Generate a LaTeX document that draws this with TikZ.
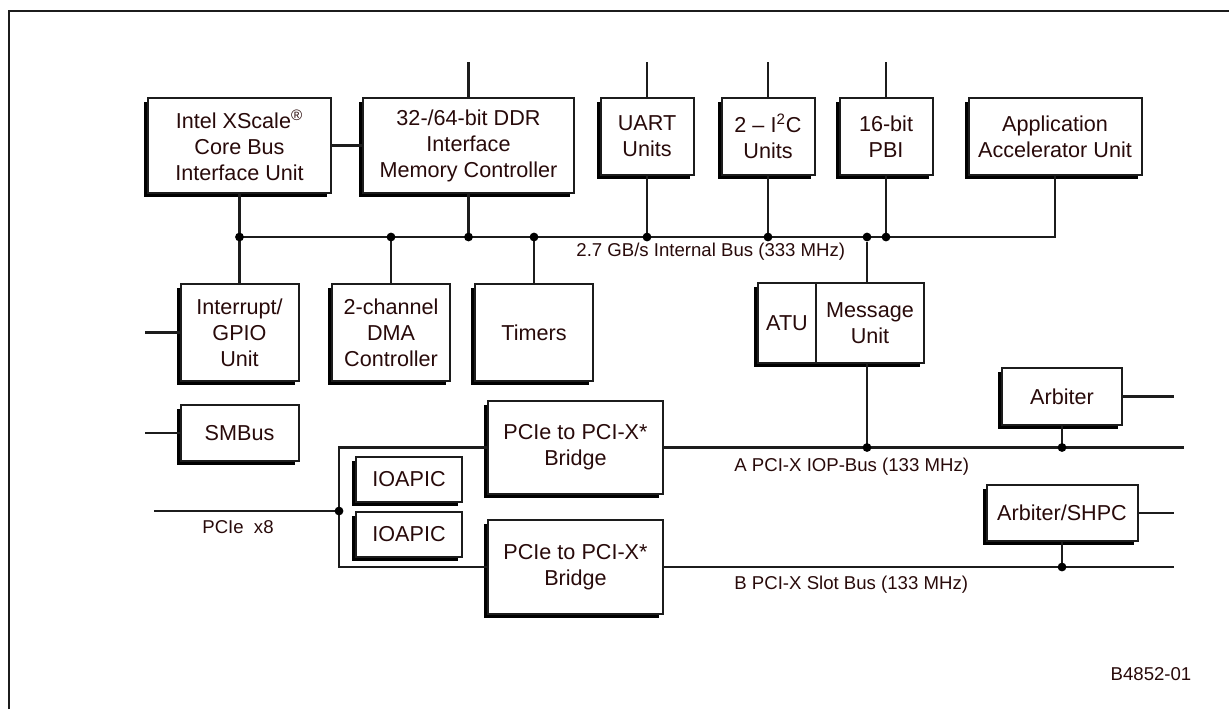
\documentclass[tikz,border=0pt]{standalone}
\usepackage{fontspec}
\setmainfont{Liberation Sans}
\usetikzlibrary{positioning, shadows}
\definecolor{inkred}{RGB}{40,10,10}
\definecolor{wire}{RGB}{28,28,28}

\begin{document}
\begin{tikzpicture}[x=0.5pt, y=-0.5pt,
  unit/.style={draw=wire, fill=white, line width=1pt, text=inkred, align=center,
    inner sep=0pt, font=\fontsize{10.8}{13}\selectfont,
    drop shadow={shadow xshift=-1.9pt, shadow yshift=-1.9pt, fill=black, opacity=1}},
  bus/.style={draw=wire, line width=1.2pt},
  junc/.style={circle, fill=black, inner sep=0pt, minimum size=4.4pt},
  buslabel/.style={text=inkred, font=\fontsize{9.3}{11}\selectfont, inner sep=0pt}]

\useasboundingbox (0,0) rectangle (1229,709);
\draw[wire, line width=1.2pt] (9,709) -- (9,11) -- (1229,11);

% top row
\node[unit, minimum width=91.5pt, minimum height=47.5pt] (xscale) at (239.5,145.5) {Intel XScale\textsuperscript{®}\\Core Bus\\Interface Unit};
\node[unit, minimum width=105.5pt, minimum height=47.5pt] (ddr) at (468.5,145.5) {32-/64-bit DDR\\Interface\\Memory Controller};
\node[unit, minimum width=46.5pt, minimum height=38.5pt] (uart) at (647,136.5) {UART\\Units};
\node[unit, minimum width=46.5pt, minimum height=38.5pt] (i2c) at (768,136.5) {2 -- I\textsuperscript{2}C\\Units};
\node[unit, minimum width=46.5pt, minimum height=38.5pt] (pbi) at (886,136.5) {16-bit\\PBI};
\node[unit, minimum width=86.5pt, minimum height=38.5pt] (app) at (1055,136.5) {Application\\Accelerator Unit};

% second row
\node[unit, minimum width=59pt, minimum height=48.5pt] (intr) at (239.5,332.5) {Interrupt/\\GPIO\\Unit};
\node[unit, minimum width=59pt, minimum height=48.5pt] (dma) at (391,332.5) {2-channel\\DMA\\Controller};
\node[unit, minimum width=59pt, minimum height=48.5pt] (timers) at (534,332.5) {Timers};
\node[unit, minimum width=54pt, minimum height=40pt] (msg) at (870,323) {Message\\Unit};
\node[unit, minimum width=29pt, minimum height=40pt] (atu) at (787,323) {ATU};
\node[unit, minimum width=59pt, minimum height=28pt] (smbus) at (239.5,433) {SMBus};

% pci-x side
\node[unit, minimum width=87.5pt, minimum height=46.5pt] (bridgeA) at (575.5,447.5) {PCIe to PCI-X*\\Bridge};
\node[unit, minimum width=87.5pt, minimum height=47pt] (bridgeB) at (575.5,567) {PCIe to PCI-X*\\Bridge};
\node[unit, minimum width=53pt, minimum height=22.5pt] (ioapicA) at (409,479.5) {IOAPIC};
\node[unit, minimum width=53pt, minimum height=22.5pt] (ioapicB) at (409,534.5) {IOAPIC};
\node[unit, minimum width=60pt, minimum height=28.5pt] (arb) at (1062,396.5) {Arbiter};
\node[unit, minimum width=75.5pt, minimum height=28pt] (shpc) at (1062,513) {Arbiter/SHPC};

% free ends
\coordinate (ddrtop) at (468.5,62);
\coordinate (uarttop) at (647,62);
\coordinate (i2ctop) at (768,62);
\coordinate (pbitop) at (886,62);
\coordinate (busL) at (239.5,237);
\coordinate (busR) at (1055,237);
\coordinate (iopjn) at (867,237);
\coordinate (gpioin) at (145,332.5);
\coordinate (smbin) at (145,433);
\coordinate (pciein) at (154,511);
\coordinate (busAend) at (1184,447.5);
\coordinate (busBend) at (1174,567);
\coordinate (arbout) at (1174,396.5);
\coordinate (shpcout) at (1174,513);

% internal bus
\draw[bus] (xscale) -- (busL) -- (busR) -- (app);
\draw[bus] (xscale) -- (ddr);
\foreach \n in {ddr,uart,i2c,pbi}
  \draw[bus] (\n top) -- (\n);
\foreach \n in {ddr,uart,i2c,pbi,dma,timers,intr}
  \draw[bus] (\n) -- (\n |- busL);
\foreach \n in {xscale,ddr,dma,timers,uart,i2c,pbi}
  \node[junc] (j-\n) at (\n |- busL) {};
\node[junc] (j-iop) at (iopjn) {};
\draw[bus] (j-iop) -- (iopjn |- msg.north);

% side ports
\draw[bus] (gpioin) -- (intr);
\draw[bus] (smbin) -- (smbus);

% pcie
\coordinate (pciejn) at (339,511);
\draw[bus] (pciein) -- (pciejn);
\draw[bus] (bridgeA.west) -- (bridgeA.west -| pciejn) -- (bridgeB.west -| pciejn) -- (bridgeB.west);
\node[junc] (j-pcie) at (pciejn) {};

% pci-x buses
\draw[bus] (bridgeA.east) -- (busAend);
\draw[bus] (bridgeB.east) -- (busBend);
\draw[bus] (iopjn |- msg.south) -- (iopjn |- busAend);
\node[junc] (j-atu) at (iopjn |- busAend) {};
\draw[bus] (arb) -- (arb |- busAend);
\node[junc] (j-arb) at (arb |- busAend) {};
\draw[bus] (arb) -- (arbout);
\draw[bus] (shpc) -- (shpc |- busBend);
\node[junc] (j-shpc) at (shpc |- busBend) {};
\draw[bus] (shpc) -- (shpcout);

% labels
\node[buslabel, anchor=west] (intlbl) at (576,252) {2.7 GB/s Internal Bus (333 MHz)};
\node[buslabel, anchor=west] (albl) at (734,467) {A PCI-X IOP-Bus (133 MHz)};
\node[buslabel, anchor=west] (blbl) at (734,585) {B PCI-X Slot Bus (133 MHz)};
\node[buslabel] (pcielbl) at (238,527) {PCIe\hspace{0.55em}x8};
\node[buslabel] (figid) at (1151,674) {B4852-01};

\end{tikzpicture}
\end{document}
